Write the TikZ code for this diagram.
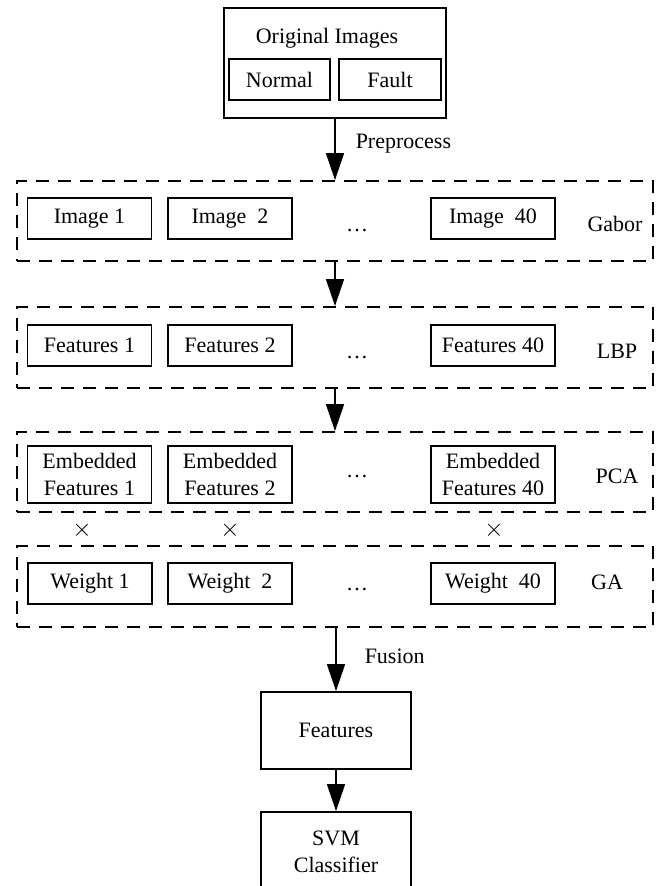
\documentclass[tikz,border=0pt]{standalone}
\usepackage{fontspec}
\setmainfont{Liberation Serif}
\usetikzlibrary{arrows.meta}
\begin{document}
\begin{tikzpicture}[x=1pt,y=-1pt,
  box/.style={draw, line width=1.8pt, rectangle, inner sep=0pt, align=center, font=\fontsize{22}{27}\selectfont},
  grp/.style={draw, line width=1.8pt, dash pattern=on 13pt off 9pt, rectangle, inner sep=0pt},
  lbl/.style={inner sep=0pt, font=\fontsize{22}{27}\selectfont},
  mul/.style={inner sep=0pt, font=\fontsize{34}{34}\selectfont},
  rowbox/.style={box, minimum width=124pt, minimum height=41pt},
  embbox/.style={box, minimum width=124pt, minimum height=57pt},
  arr/.style={line width=1.5pt, -{Triangle[length=27pt,width=18pt]}}]
\clip (0,0) rectangle (662,886);
\fill[white] (0,0) rectangle (662,886);
% top
\node[box, minimum width=222pt, minimum height=110pt] (orig) at (335,63) {};
\node[lbl] (origt) at (327,38) {Original Images};
\node[box, minimum width=101pt, minimum height=41pt] (normal) at (279.5,79.5) {Normal};
\node[box, minimum width=102pt, minimum height=41pt] (fault) at (390,79.5) {Fault};
% Gabor
\node[grp, minimum width=636pt, minimum height=80pt] (gabor) at (335,221) {};
\node[rowbox] (im1) at (89.5,218.5) {Image 1};
\node[rowbox] (im2) at (230,218.5) {Image\ \ 2};
\node[rowbox] (im40) at (493,218.5) {Image\ \ 40};
\node[lbl] (d1) at (357,231) {…};
\node[lbl] (gaborl) at (615,224) {Gabor};
% LBP
\node[grp, minimum width=636pt, minimum height=81pt] (lbp) at (335,347.5) {};
\node[rowbox] (f1) at (89.5,345.5) {Features 1};
\node[rowbox] (f2) at (230,345.5) {Features 2};
\node[rowbox] (f40) at (493,345.5) {Features 40};
\node[lbl] (d2) at (357,358) {…};
\node[lbl] (lbpl) at (617,351) {LBP};
% PCA
\node[grp, minimum width=636pt, minimum height=80pt] (pca) at (335,472) {};
\node[embbox] (e1) at (89.5,474.5) {Embedded\\Features 1};
\node[embbox] (e2) at (230,474.5) {Embedded\\Features 2};
\node[embbox] (e40) at (493,474.5) {Embedded\\Features 40};
\node[lbl] (d3) at (357,477) {…};
\node[lbl] (pcal) at (617,476) {PCA};
% times
\node[mul] (x1) at (82,530) {$\times$};
\node[mul] (x2) at (230,530) {$\times$};
\node[mul] (x3) at (494,530) {$\times$};
% GA
\node[grp, minimum width=636pt, minimum height=81pt] (ga) at (335,586.5) {};
\node[rowbox] (w1) at (90,583.5) {Weight 1};
\node[rowbox] (w2) at (230,583.5) {Weight\ \ 2};
\node[rowbox] (w40) at (493,583.5) {Weight\ \ 40};
\node[lbl] (d4) at (357,590) {…};
\node[lbl] (gal) at (607,582) {GA};
% bottom
\node[box, minimum width=150pt, minimum height=77pt] (feat) at (336,730.5) {Features};
\node[box, minimum width=150pt, minimum height=80pt] (svm) at (336,852) {SVM\\Classifier};
% arrows
\draw[arr] (orig.south) -- (gabor.north) node[lbl, pos=0.4, anchor=west, xshift=20pt] (pre) {Preprocess};
\draw[arr] (gabor.south) -- (lbp.north);
\draw[arr] (lbp.south) -- (pca.north);
\draw[arr] (ga.south -| feat.north) -- (feat.north) node[lbl, pos=0.45, anchor=west, xshift=28pt] (fus) {Fusion};
\draw[arr] (feat.south) -- (svm.north);
\end{tikzpicture}
\end{document}
